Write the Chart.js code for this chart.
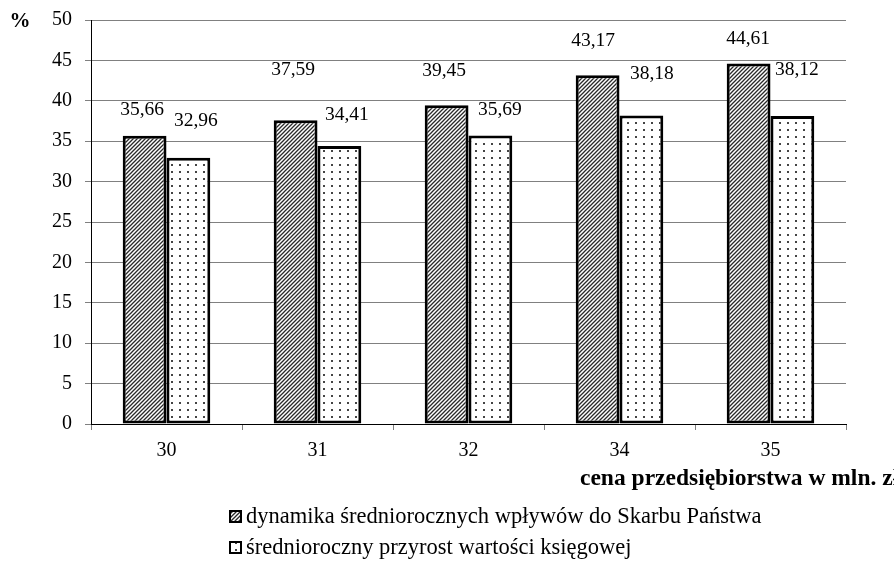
<!DOCTYPE html>
<html>
<head>
<meta charset="utf-8">
<script src="https://cdn.jsdelivr.net/npm/chart.js@4/dist/chart.umd.min.js"></script>
<style>
  html, body { margin: 0; padding: 0; background: #fff; }
  #wrap { width: 894px; height: 578px; position: relative; }
</style>
</head>
<body>
<div id="wrap"><canvas id="c" width="894" height="578"></canvas></div>
<script>
// Price of the enterprise (mln zł) and the two compared rates (%)
const categories = ['30', '31', '32', '34', '35'];
const dynamikaWplywow = [35.66, 37.59, 39.45, 43.17, 44.61];
const przyrostWartosci = [32.96, 34.41, 35.69, 38.18, 38.12];
const seriesNames = [
  'dynamika średniorocznych wpływów do Skarbu Państwa',
  'średnioroczny przyrost wartości księgowej'
];
const yMin = 0, yMax = 50, yStep = 5;

const SERIF = "'Liberation Serif', 'Times New Roman', serif";

// Label nudges (px) from the top centre of each bar
const labelNudges = [
  [[-2.5, -26], [-2.5, -50], [-2.5, -34], [-4.5, -34], [-0.5, -25]],
  [[7.5, -37], [7.5, -31], [9.5, -26], [10.5, -42], [4.5, -46]]
];

function hatchPattern() {
  const t = document.createElement('canvas');
  t.width = 4; t.height = 4;
  const g = t.getContext('2d');
  g.fillStyle = '#fff';
  g.fillRect(0, 0, 4, 4);
  g.strokeStyle = '#2a2a2a';
  g.lineWidth = 1.3;
  g.beginPath();
  g.moveTo(-1, 5); g.lineTo(5, -1);
  g.moveTo(-1, 1); g.lineTo(1, -1);
  g.moveTo(3, 5); g.lineTo(5, 3);
  g.stroke();
  return g.createPattern(t, 'repeat');
}

function dotPattern() {
  const t = document.createElement('canvas');
  t.width = 8; t.height = 7;
  const g = t.getContext('2d');
  g.fillStyle = '#fff';
  g.fillRect(0, 0, 8, 7);
  g.fillStyle = '#444';
  g.fillRect(3, 3, 2, 2);
  return g.createPattern(t, 'repeat');
}

const ctx0 = document.getElementById('c').getContext('2d');
const fills = [hatchPattern(), dotPattern()];

const fmt = v => v.toFixed(2).replace('.', ',');

const extrasPlugin = {
  id: 'extras',
  afterDatasetsDraw(chart) {
    const ctx = chart.ctx;
    ctx.save();
    ctx.fillStyle = '#000';
    ctx.font = `19.5px ${SERIF}`;
    ctx.textAlign = 'center';
    ctx.textBaseline = 'middle';
    chart.data.datasets.forEach((ds, di) => {
      const meta = chart.getDatasetMeta(di);
      meta.data.forEach((el, i) => {
        const [dx, dy] = labelNudges[di][i];
        ctx.fillText(fmt(ds.data[i]), el.x + dx, el.y + dy);
      });
    });
    ctx.restore();
  },
  afterDraw(chart) {
    const ctx = chart.ctx;
    ctx.save();
    ctx.fillStyle = '#000';
    // unit marker of the value axis
    ctx.font = `bold 21px ${SERIF}`;
    ctx.textAlign = 'center';
    ctx.textBaseline = 'middle';
    ctx.fillText('%', 20, 22);
    // category axis title
    ctx.textAlign = 'left';
    ctx.font = `bold 23.5px ${SERIF}`;
    ctx.fillText('cena przedsiębiorstwa w mln. zł', 580, 479);
    // legend
    ctx.font = `22.5px ${SERIF}`;
    const rows = [517, 548];
    seriesNames.forEach((name, i) => {
      const y = rows[i];
      ctx.fillStyle = fills[i];
      ctx.fillRect(230, y - 6, 11, 11);
      ctx.strokeStyle = '#000';
      ctx.lineWidth = 2;
      ctx.strokeRect(230, y - 6, 11, 11);
      ctx.fillStyle = '#000';
      ctx.fillText(name, 246, y);
    });
    ctx.restore();
  }
};

new Chart(ctx0, {
  type: 'bar',
  data: {
    labels: categories,
    datasets: [
      { label: seriesNames[0], data: dynamikaWplywow, backgroundColor: fills[0],
        borderColor: '#000', borderWidth: 3, borderSkipped: false },
      { label: seriesNames[1], data: przyrostWartosci, backgroundColor: fills[1],
        borderColor: '#000', borderWidth: 3, borderSkipped: false }
    ]
  },
  options: {
    responsive: false,
    animation: false,
    events: [],
    layout: { padding: { left: 0, right: 48, top: 20, bottom: 0 } },
    datasets: { bar: { categoryPercentage: 0.58, barPercentage: 1.0 } },
    plugins: { legend: { display: false }, tooltip: { enabled: false } },
    scales: {
      x: {
        grid: { offset: true, drawOnChartArea: false, drawTicks: true, tickLength: 6, color: '#808080' },
        border: { color: '#000', width: 1 },
        ticks: { font: { family: SERIF, size: 20 }, color: '#000', padding: 9 },
        afterFit(s) { s.height = 154; s.paddingLeft = 0; s.paddingRight = 0; }
      },
      y: {
        min: yMin, max: yMax,
        ticks: { stepSize: yStep, font: { family: SERIF, size: 20 }, color: '#000', padding: 13 },
        grid: { color: '#808080', tickLength: 6, drawTicks: true },
        border: { color: '#000', width: 1 },
        afterFit(s) { s.width = 91; s.paddingTop = 0; s.paddingBottom = 0; }
      }
    }
  },
  plugins: [extrasPlugin]
});
</script>
</body>
</html>
